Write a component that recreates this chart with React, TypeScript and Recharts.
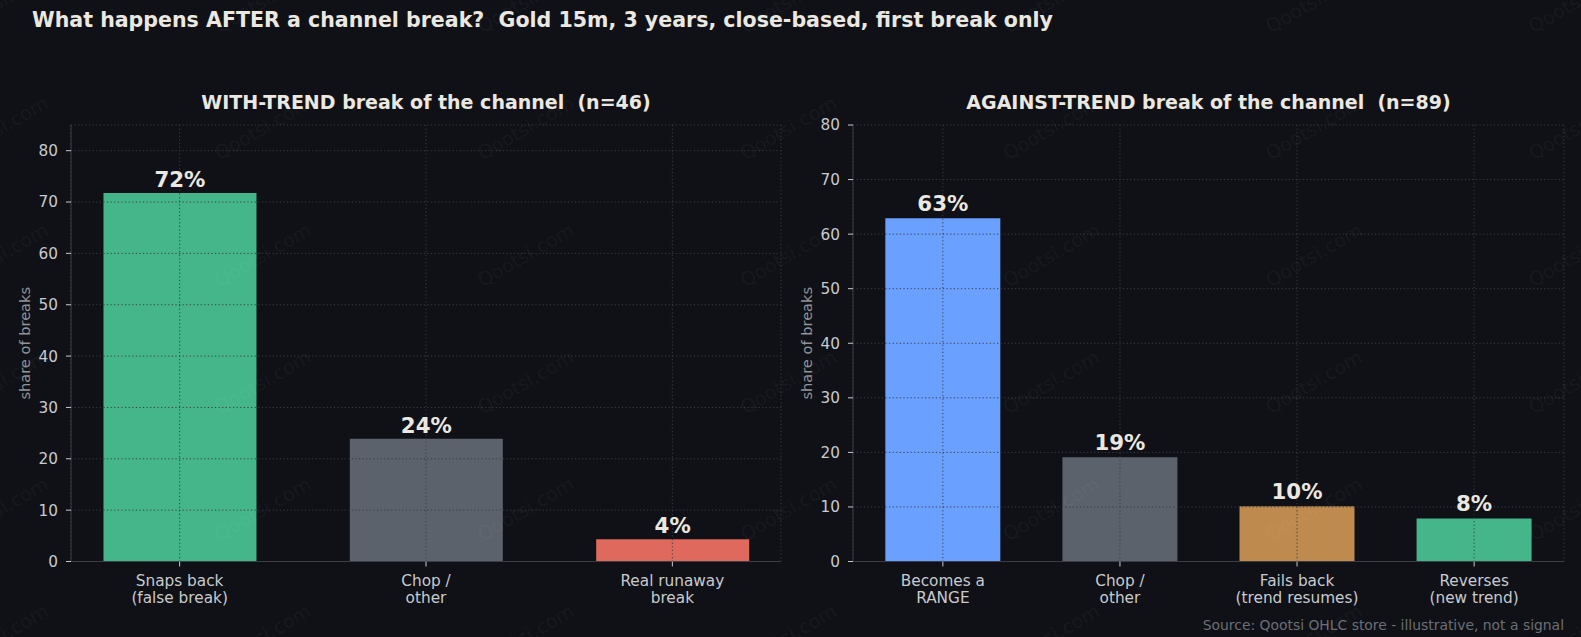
import React from "react";
import { BarChart, Bar, XAxis, YAxis, CartesianGrid, Cell, LabelList } from "recharts";

// with-trend breaks (n=46)
const withCategories = ["Snaps back\n(false break)", "Chop /\nother", "Real runaway\nbreak"];
const withValues = [71.74, 23.91, 4.35];
const withColors = ["#45b68a", "#5b626c", "#e0695d"];

// against-trend breaks (n=89)
const againstCategories = ["Becomes a\nRANGE", "Chop /\nother", "Fails back\n(trend resumes)", "Reverses\n(new trend)"];
const againstValues = [62.92, 19.1, 10.11, 7.87];
const againstColors = ["#6aa0ff", "#5b626c", "#bf8a4e", "#45b68a"];

const yTicks = [0, 10, 20, 30, 40, 50, 60, 70, 80];

const BG = "#0f1116";
const GRID = "#3a3d44";
const SPINE = "#3a3d44";
const TICK_TXT = "#c8cace";
const TITLE_TXT = "#ebe8e1";
const FONT = "DejaVu Sans";

const CatTick = (props: any) => {
  const { x, y, payload, labels } = props;
  const lines: string[] = (labels[payload.value] || "").split("\n");
  return (
    <text x={x} y={y} textAnchor="middle" fill={TICK_TXT} fontSize={15.3} fontFamily={FONT}>
      {lines.map((l, i) => (
        <tspan key={i} x={x} y={y + 17 + i * 17}>
          {l}
        </tspan>
      ))}
    </text>
  );
};

const YLabel = (props: any) => {
  const vb = props.viewBox || {};
  const cx = vb.x + 4;
  const cy = vb.y + vb.height / 2;
  return (
    <text
      x={cx}
      y={cy}
      transform={`rotate(-90, ${cx}, ${cy})`}
      textAnchor="middle"
      dy="0.35em"
      fill="#8f939a"
      fontSize={14.6}
      fontFamily={FONT}
    >
      share of breaks
    </text>
  );
};

type PanelProps = {
  categories: string[];
  values: number[];
  colors: string[];
  yMax: number;
  barSize: number;
  xPad: number;
  labelGap: number;
  width: number;
  margin: { top: number; right: number; bottom: number; left: number };
};

function Panel({ categories, values, colors, yMax, barSize, xPad, labelGap, width, margin }: PanelProps) {
  const data = categories.map((c, i) => ({ pos: i, name: c, value: values[i] }));
  const n = categories.length;
  return (
    <BarChart width={width} height={637} data={data} margin={margin}>
      <XAxis
        dataKey="pos"
        type="number"
        domain={[-xPad, n - 1 + xPad]}
        ticks={categories.map((_, i) => i)}
        allowDataOverflow
        interval={0}
        height={50}
        tickSize={5}
        axisLine={{ stroke: SPINE }}
        tickLine={{ stroke: TICK_TXT }}
        tick={<CatTick labels={categories} />}
      />
      <YAxis
        type="number"
        domain={[0, yMax]}
        ticks={yTicks}
        allowDataOverflow
        width={50}
        tickSize={5}
        tickMargin={8}
        axisLine={{ stroke: SPINE }}
        tickLine={{ stroke: TICK_TXT }}
        tick={{ fill: TICK_TXT, fontSize: 15.3, fontFamily: FONT }}
        label={<YLabel />}
      />
      <Bar dataKey="value" barSize={barSize} isAnimationActive={false}>
        {data.map((d, i) => (
          <Cell key={d.name} fill={colors[i]} />
        ))}
        <LabelList
          dataKey="value"
          content={(p: any) => (
            <text
              x={p.x + p.width / 2}
              y={p.y - labelGap}
              textAnchor="middle"
              fill={TITLE_TXT}
              fontSize={21.3}
              fontWeight="bold"
              fontFamily={FONT}
            >
              {Math.round(p.value)}%
            </text>
          )}
        />
      </Bar>
      <CartesianGrid stroke={GRID} strokeDasharray="1.2 2.4" zIndex={350} />
    </BarChart>
  );
}

const wmCols = [0, 1, 2, 3, 4, 5, 6];
const wmRows = [0, 1, 2, 3, 4, 5];

export default function App() {
  return (
    <div
      style={{
        position: "fixed",
        left: 0,
        top: 0,
        width: 1581,
        height: 637,
        background: BG,
        fontFamily: FONT,
        overflow: "hidden",
      }}
    >
      <div style={{ position: "absolute", left: 0, top: 0 }}>
        <Panel
          categories={withCategories}
          values={withValues}
          colors={withColors}
          yMax={85}
          barSize={153}
          xPad={0.441}
          labelGap={6}
          width={790}
          margin={{ top: 125, right: 9, bottom: 25.5, left: 21 }}
        />
      </div>
      <div style={{ position: "absolute", left: 790, top: 0 }}>
        <Panel
          categories={againstCategories}
          values={againstValues}
          colors={againstColors}
          yMax={80}
          barSize={115}
          xPad={0.5075}
          labelGap={7.5}
          width={791}
          margin={{ top: 125, right: 17, bottom: 25.5, left: 13 }}
        />
      </div>
      <svg
        width={1581}
        height={637}
        style={{ position: "absolute", left: 0, top: 0, pointerEvents: "none" }}
      >
        <text x={32} y={27} fill={TITLE_TXT} fontSize={20.55} fontWeight="bold" fontFamily={FONT} xmlSpace="preserve">
          What happens AFTER a channel break?  Gold 15m, 3 years, close-based, first break only
        </text>
        <text x={426} y={109} textAnchor="middle" fill={TITLE_TXT} fontSize={19} fontWeight="bold" fontFamily={FONT} xmlSpace="preserve">
          WITH-TREND break of the channel  (n=46)
        </text>
        <text x={1208.5} y={109} textAnchor="middle" fill={TITLE_TXT} fontSize={19} fontWeight="bold" fontFamily={FONT} xmlSpace="preserve">
          AGAINST-TREND break of the channel  (n=89)
        </text>
        <text x={1564} y={630} textAnchor="end" fill="#6b6f75" fontSize={13.9} fontFamily={FONT}>
          Source: Qootsi OHLC store - illustrative, not a signal
        </text>
        {wmRows.map((r) =>
          wmCols.map((c) => {
            const cx = c * 262.8;
            const cy = 1 + r * 127;
            return (
              <text
                key={`${r}-${c}`}
                x={cx}
                y={cy}
                dy="0.35em"
                textAnchor="middle"
                transform={`rotate(-30, ${cx}, ${cy})`}
                fill="#ffffff"
                fillOpacity={0.055}
                fontSize={19}
                fontFamily={FONT}
              >
                Qootsi.com
              </text>
            );
          })
        )}
      </svg>
    </div>
  );
}
